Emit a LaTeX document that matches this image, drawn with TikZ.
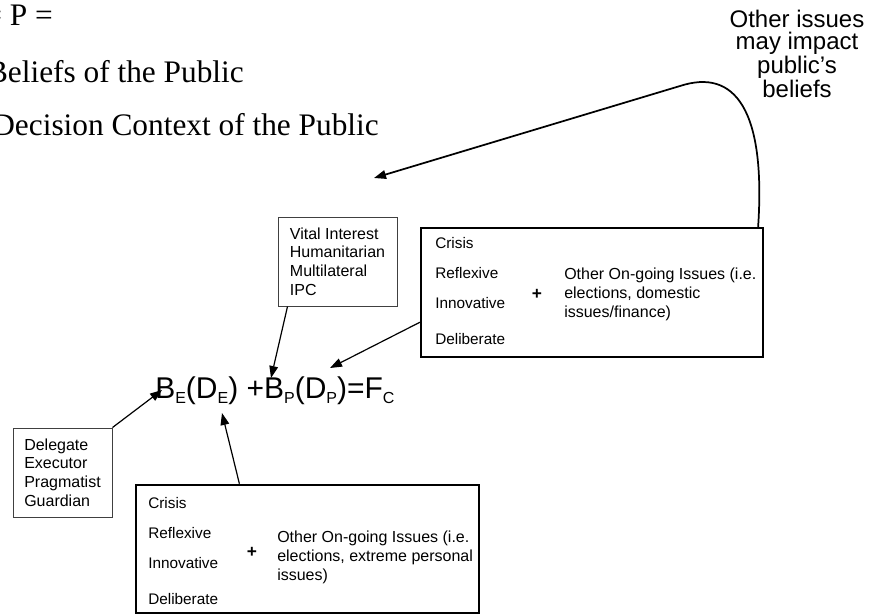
\documentclass[tikz,border=0pt]{standalone}
\usepackage{fontspec}
\setmainfont{Liberation Sans}
\newfontfamily\timesfont{Liberation Serif}
\usetikzlibrary{shapes,arrows.meta,positioning}

\newcommand{\lowsub}[1]{\raisebox{-3.75pt}{\fontsize{12pt}{12pt}\selectfont #1}}

\begin{document}
\begin{tikzpicture}[x=0.75pt, y=-0.75pt,
    thinbox/.style={draw=black!75, line width=0.75pt, rectangle, align=left, minimum width=#1, minimum height=66.75pt, font=\fontsize{12pt}{14pt}\selectfont},
    thickbox/.style={draw, line width=1.4pt, rectangle, minimum width=256.75pt, minimum height=96.5pt},
    listtext/.style={anchor=base west, inner sep=0pt, align=left, font=\fontsize{11.5pt}{14pt}\selectfont},
    othertext/.style={anchor=base west, inner sep=0pt, align=left, font=\fontsize{12pt}{13.9pt}\selectfont},
    plussign/.style={inner sep=0pt, font=\fontsize{13pt}{13pt}\selectfont\bfseries},
    serifline/.style={anchor=base east, inner sep=0pt, font=\timesfont\fontsize{23.5pt}{28pt}\selectfont},
    conn/.style={-{Triangle[length=9pt,width=6.5pt]}, line width=0.9pt}]
    \useasboundingbox (0,0) rectangle (873,615);

    % Legend
    \node[serifline] (legendP) at (53,25) {= P =};
    \node[serifline] (legendB) at (244,82) {Beliefs of the Public};
    \node[serifline] (legendD) at (379,135) {Decision Context of the Public};
    \node[anchor=base, align=center, inner sep=0pt, font=\fontsize{18pt}{16.3pt}\selectfont] (issues) at (797,97) {Other issues\\may impact\\public’s\\beliefs};

    % Nodes (base anchor sits on the last line)
    \node[thinbox=89.25pt] (vital) at (337.5,261.5) {Vital Interest\\Humanitarian\\Multilateral\\IPC};
    \node[thinbox=74.25pt] (delegate) at (62.5,472.5) {Delegate\\Executor\\Pragmatist\\Guardian};

    \node[thickbox] (publicbox) at (592,292.5) {};
    \node[listtext] (publicmodes) at (435,344) {Crisis\\[8.5pt]Reflexive\\[8.5pt]Innovative\\[13pt]Deliberate};
    \node[plussign] (publicplus) at (537,294) {+};
    \node[othertext] (publicother) at (564,317) {Other On-going Issues (i.e.\\elections, domestic\\issues/finance)};

    \node[thickbox] (elitebox) at (307.5,549) {};
    \node[listtext] (elitemodes) at (148,604) {Crisis\\[8.5pt]Reflexive\\[8.5pt]Innovative\\[13pt]Deliberate};
    \node[plussign] (eliteplus) at (252,552) {+};
    \node[othertext] (eliteother) at (277,580) {Other On-going Issues (i.e.\\elections, extreme personal\\issues)};

    \node[anchor=base west, inner sep=0pt, font=\fontsize{22.5pt}{27pt}\selectfont] (formula) at (155,398) {B\lowsub{E}(D\lowsub{E}) +B\lowsub{P}(D\lowsub{P})=F\lowsub{C}};

    \coordinate (tipBE) at (162,390);
    \coordinate (tipBP) at (271,378);
    \coordinate (tipDE) at (222,413);
    \coordinate (tipDP) at (330,368);
    \coordinate (tipTop) at (374,178);

    % Arrows
    \draw[conn] (delegate.north east) -- (tipBE);
    \draw[conn] ([xshift=7.5pt]vital.south west) -- (tipBP);
    \draw[conn] ([xshift=78pt]elitebox.north west) -- (tipDE);
    \draw[conn] ([yshift=-71.25pt]publicbox.north west) -- (tipDP);
    \draw[conn, line width=1.3pt] ([xshift=-4.5pt]publicbox.north east) .. controls (766,110) and (735,68) .. (680,86) -- (tipTop);
\end{tikzpicture}
\end{document}
